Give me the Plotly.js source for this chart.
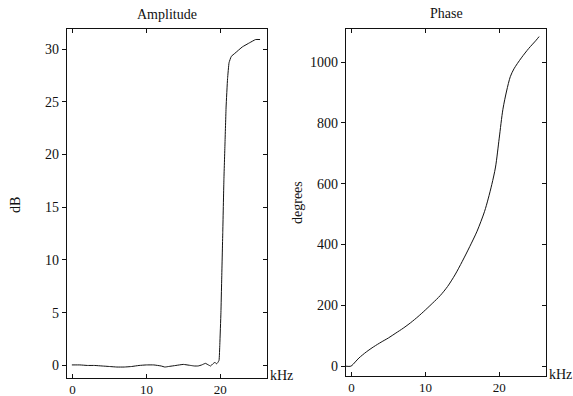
<!DOCTYPE html>
<html>
<head>
<meta charset="utf-8">
<script src="https://cdn.plot.ly/plotly-3.0.1.min.js"></script>
<style>html,body{margin:0;padding:0;background:#fff;}#chart{width:573px;height:396px;}</style>
</head>
<body>
<div id="chart"></div>
<script>
// Amplitude response (dB) vs frequency (kHz)
var ampFreq = [-0.1, 1, 2, 3, 4, 5, 6, 7, 8, 9, 10, 11, 12, 12.5, 13, 14, 15, 16, 16.5, 17, 17.5, 18, 18.4, 18.7, 19, 19.3, 19.5, 19.7, 19.85, 19.95, 20.1, 20.2, 20.35, 20.5, 20.65, 20.8, 21, 21.2, 21.5, 22, 23, 24, 24.8, 25.4];
var ampDb   = [0.05, 0.05, 0, 0, -0.05, -0.1, -0.15, -0.15, -0.1, 0, 0.05, 0.05, -0.05, -0.15, -0.1, 0, 0.1, 0, -0.05, -0.05, 0.05, 0.2, 0.05, -0.05, 0.15, 0.3, 0.15, 0.3, 0.5, 2, 5, 8, 12.6, 17.5, 21, 24.5, 27.2, 28.7, 29.3, 29.6, 30.2, 30.6, 30.9, 30.9];
// Phase response (degrees) vs frequency (kHz)
var phFreq = [-0.8, -0.1, 0.5, 1, 2, 3, 4, 5, 6, 7, 8, 9, 10, 11, 12, 13, 14, 15, 16, 17, 18, 18.5, 19, 19.5, 20, 20.5, 21, 21.5, 22, 23, 24, 25, 25.4];
var phDeg  = [0, 0, 14, 27, 47, 64, 79, 93, 109, 125, 143, 163, 185, 208, 232, 262, 300, 345, 393, 444, 508, 550, 598, 655, 750, 845, 905, 952, 978, 1014, 1045, 1072, 1084];

var xTicks = [0, 10, 20];
var ampTicks = [0, 5, 10, 15, 20, 25, 30];
var phTicks = [0, 200, 400, 600, 800, 1000];

var F = "Liberation Serif, Times New Roman, serif";
var ink = '#111';

var traces = [
  {x: ampFreq, y: ampDb, xaxis: 'x', yaxis: 'y', mode: 'lines', line: {color: ink, width: 1, shape: 'spline', smoothing: 0.3}, hoverinfo: 'skip'},
  {x: phFreq, y: phDeg, xaxis: 'x2', yaxis: 'y2', mode: 'lines', line: {color: ink, width: 1, shape: 'spline', smoothing: 0.8}, hoverinfo: 'skip'},
  {x: ampFreq, y: ampDb, xaxis: 'x3', yaxis: 'y3', mode: 'lines', line: {color: 'rgba(0,0,0,0)', width: 0}, hoverinfo: 'skip'},
  {x: phFreq, y: phDeg, xaxis: 'x4', yaxis: 'y4', mode: 'lines', line: {color: 'rgba(0,0,0,0)', width: 0}, hoverinfo: 'skip'}
];

var xr = [-0.8, 26.3];
var ampR = [-1.15, 31.9];
var phR = [-31, 1110];
var dL = [0.1164, 0.4654];
var dR = [0.6033, 0.9524];
var yL = [0.0465, 0.9268];
var yRd = [0.0515, 0.9276];

function prim(extra) {
  var a = {showgrid: false, zeroline: false, showline: true, linecolor: ink, linewidth: 1,
    ticks: 'outside', ticklen: 4, tickwidth: 1, tickcolor: ink, tickmode: 'array',
    tickfont: {family: F, size: 14, color: ink}, fixedrange: true};
  for (var k in extra) a[k] = extra[k];
  return a;
}
function mir(extra) {
  var a = {showgrid: false, zeroline: false, showline: true, linecolor: ink, linewidth: 1,
    ticks: 'inside', ticklen: 4, tickwidth: 1, tickcolor: ink, tickmode: 'array',
    showticklabels: false, fixedrange: true};
  for (var k in extra) a[k] = extra[k];
  return a;
}
var xFont = {family: F, size: 13, color: ink};

var layout = {
  width: 573, height: 396,
  margin: {l: 0, r: 0, t: 0, b: 0},
  paper_bgcolor: '#fff', plot_bgcolor: '#fff',
  showlegend: false,
  xaxis: prim({domain: dL, range: xr, anchor: 'y', ticks: 'inside', ticklen: 4, tickfont: xFont, tickvals: xTicks, ticktext: xTicks.map(String)}),
  yaxis: prim({domain: yL, range: ampR, anchor: 'x', tickvals: ampTicks, ticktext: ampTicks.map(String)}),
  xaxis2: prim({domain: dR, range: xr, anchor: 'y2', ticks: 'inside', ticklen: 4, tickfont: xFont, tickvals: xTicks, ticktext: xTicks.map(String)}),
  yaxis2: prim({domain: yRd, range: phR, anchor: 'x2', tickvals: phTicks, ticktext: phTicks.map(String)}),
  xaxis3: mir({overlaying: 'x', anchor: 'y', side: 'top', range: xr, tickvals: xTicks}),
  yaxis3: mir({overlaying: 'y', anchor: 'x', side: 'right', range: ampR, tickvals: ampTicks}),
  xaxis4: mir({overlaying: 'x2', anchor: 'y2', side: 'top', range: xr, tickvals: xTicks}),
  yaxis4: mir({overlaying: 'y2', anchor: 'x2', side: 'right', range: phR, tickvals: phTicks}),
  annotations: [
    {text: 'Amplitude', xref: 'paper', yref: 'paper', x: 167/573, y: 1 - 15/396, xanchor: 'center', yanchor: 'middle', showarrow: false, font: {family: F, size: 14, color: ink}},
    {text: 'Phase', xref: 'paper', yref: 'paper', x: 446/573, y: 1 - 13/396, xanchor: 'center', yanchor: 'middle', showarrow: false, font: {family: F, size: 14, color: ink}},
    {text: 'dB', xref: 'paper', yref: 'paper', x: 16/573, y: 1 - 205/396, xanchor: 'center', yanchor: 'middle', textangle: -90, showarrow: false, font: {family: F, size: 14, color: ink}},
    {text: 'degrees', xref: 'paper', yref: 'paper', x: 297/573, y: 1 - 203/396, xanchor: 'center', yanchor: 'middle', textangle: -90, showarrow: false, font: {family: F, size: 14, color: ink}},
    {text: 'kHz', xref: 'paper', yref: 'paper', x: 268/573, y: 1 - 375/396, xanchor: 'left', yanchor: 'middle', showarrow: false, font: {family: F, size: 14, color: ink}},
    {text: 'kHz', xref: 'paper', yref: 'paper', x: 547/573, y: 1 - 374/396, xanchor: 'left', yanchor: 'middle', showarrow: false, font: {family: F, size: 14, color: ink}}
  ]
};

Plotly.newPlot('chart', traces, layout, {staticPlot: true, displayModeBar: false});
</script>
</body>
</html>
